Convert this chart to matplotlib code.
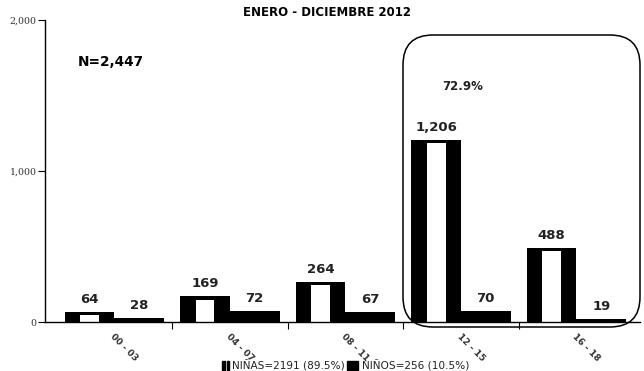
import matplotlib
matplotlib.use("Agg")
import matplotlib.pyplot as plt
from matplotlib.patches import FancyBboxPatch, Rectangle
import numpy as np

categories = ["00 - 03", "04 - 07", "08 - 11", "12 - 15", "16 - 18"]
ninas = [64, 169, 264, 1206, 488]
ninos = [28, 72, 67, 70, 19]
yticks = [0, 1000, 2000]
ytick_labels = ["0", "1,000", "2,000"]

fig = plt.figure(figsize=(6.44, 3.71), dpi=100)
ax = fig.add_axes([45/644, 1-322/371, 595/644, 302/371])

x = np.arange(len(categories))
w = 0.43
xa = x - w/2
xb = x + w/2
ax.bar(xa, ninas, width=w, color="black", edgecolor="none")
ax.bar(xa, [v - 20 for v in ninas], width=w*0.38, color="white", edgecolor="none")
ax.bar(xb, ninos, width=w, color="black", edgecolor="none")

for xi, v in zip(xa, ninas):
    ax.text(xi, v + 40, f"{v:,}", ha="center", va="bottom", fontsize=9.5, fontweight="bold", color="#222222")
for xi, v in zip(xb, ninos):
    ax.text(xi, v + 40, f"{v:,}", ha="center", va="bottom", fontsize=9.5, fontweight="bold", color="#222222")

ax.set_xlim(-0.6, 4.55)
ax.set_ylim(0, 2000)
ax.set_yticks(yticks)
ax.set_yticklabels(ytick_labels, fontsize=6.8, family="DejaVu Serif", color="#333333")
ax.tick_params(axis="y", length=5, width=0.8, pad=1)
ax.set_xticks(x[:-1] + 0.5, minor=False)
ax.set_xticklabels([])
ax.tick_params(axis="x", length=5, width=0.8, direction="out")
for xi, lab in zip(x, categories):
    ax.text(xi - 0.02, -85, lab, rotation=-45, rotation_mode="anchor", ha="left", va="center",
            fontsize=6.5, fontweight="bold", color="#333333")
for s in ["top", "right"]:
    ax.spines[s].set_visible(False)
ax.spines["left"].set_linewidth(1.0)
ax.spines["bottom"].set_linewidth(1.0)

fig.text(327/644, 1-12/371, "ENERO - DICIEMBRE 2012", ha="center", va="center", fontsize=8.5, fontweight="bold")
fig.text(111/644, 1-62/371, "N=2,447", ha="center", va="center", fontsize=9.8, fontweight="bold")
fig.text(463/644, 1-87/371, "72.9%", ha="center", va="center", fontsize=8.5, fontweight="bold", color="#222222")

box = FancyBboxPatch((4.03, 0.44), 2.37, 2.92, boxstyle="round,pad=0,rounding_size=0.3",
                     transform=fig.dpi_scale_trans, fill=False, edgecolor="black", linewidth=1.1)
fig.add_artist(box)

# legend
fig.add_artist(Rectangle((2.22, 0.01), 0.025, 0.09, transform=fig.dpi_scale_trans, color="black"))
fig.add_artist(Rectangle((2.265, 0.01), 0.025, 0.09, transform=fig.dpi_scale_trans, color="black"))
fig.text(2.32/6.44, 0.055/3.71, "NIÑAS=2191 (89.5%)", ha="left", va="center", fontsize=7.6, color="#222222")
fig.add_artist(Rectangle((3.47, 0.01), 0.11, 0.09, transform=fig.dpi_scale_trans, color="black"))
fig.text(3.62/6.44, 0.055/3.71, "NIÑOS=256 (10.5%)", ha="left", va="center", fontsize=7.6, color="#222222")

fig.savefig("out.png", dpi=100)
